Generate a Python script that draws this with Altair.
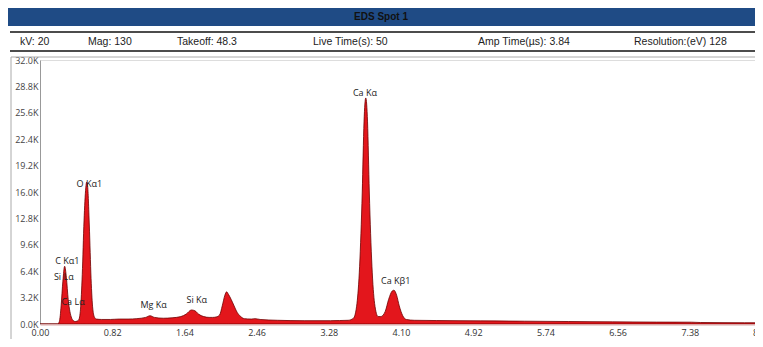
import altair as alt
import pandas as pd

# ---- spectrum (energy keV, counts) ----
energy = [0.00, 0.10, 0.20, 0.22, 0.24, 0.26, 0.28, 0.30, 0.32, 0.34, 0.36, 0.38, 0.40,
          0.42, 0.44, 0.46, 0.48, 0.50, 0.52, 0.53, 0.54, 0.56, 0.58, 0.60, 0.62, 0.64,
          0.70, 0.80, 0.90, 1.00, 1.10, 1.20, 1.25, 1.30, 1.40, 1.50, 1.60, 1.66, 1.72,
          1.76, 1.80, 1.86, 1.92, 1.96, 2.00, 2.04, 2.07, 2.10, 2.12, 2.14, 2.17, 2.20,
          2.24, 2.28, 2.32, 2.40, 2.44, 2.50, 2.70, 3.00, 3.30, 3.40, 3.50, 3.56, 3.60,
          3.63, 3.66, 3.68, 3.70, 3.72, 3.74, 3.77, 3.80, 3.84, 3.87, 3.92, 3.96, 4.00,
          4.02, 4.05, 4.08, 4.12, 4.16, 4.25, 4.50, 5.00, 5.50, 6.00, 6.50, 7.00, 7.40,
          7.50, 8.00, 8.20]
counts = [0, 0, 0, 300, 2200, 5200, 7000, 5600, 3000, 1500, 700, 400, 300,
          350, 500, 1800, 6000, 12500, 16500, 17200, 16800, 12000, 5500, 1800, 800, 600,
          550, 550, 600, 600, 650, 800, 1000, 800, 700, 750, 900, 1200, 1700,
          1600, 1200, 900, 800, 800, 850, 1100, 2200, 3500, 3900, 3600, 3000, 2300,
          1400, 900, 650, 600, 650, 550, 450, 400, 400, 420, 450, 700, 2500,
          7000, 16000, 24500, 27400, 24500, 16000, 7000, 2500, 900, 900, 1500, 3000, 4000,
          4100, 3500, 2200, 1000, 550, 450, 420, 380, 340, 300, 260, 230, 220,
          180, 150, 150]

# ---- peak labels ----
peak_labels = ["C  K\u03b11", "Si L\u03b1", "Ca L\u03b1", "O  K\u03b11", "Mg K\u03b1",
               "Si K\u03b1", "Ca K\u03b1", "Ca K\u03b21"]
peak_keV = [0.31, 0.27, 0.375, 0.56, 1.29, 1.78, 3.69, 4.04]
peak_cnt = [7580, 5650, 2650, 16960, 2290, 2890, 28030, 5170]

# ---- header ----
title_text = "EDS Spot 1"
info_texts = ["kV: 20", "Mag: 130", "Takeoff: 48.3", "Live Time(s): 50",
              "Amp Time(\u00b5s): 3.84", "Resolution:(eV) 128"]

x_ticks = [0.00, 0.82, 1.64, 2.46, 3.28, 4.10, 4.92, 5.74, 6.56, 7.38]
y_ticks = [0, 3200, 6400, 9600, 12800, 16000, 19200, 22400, 25600, 28800, 32000]

spec = pd.DataFrame({"keV": energy, "cnt": counts})
labels = pd.DataFrame({"label": peak_labels, "keV": peak_keV, "cnt": peak_cnt})
one = pd.DataFrame({"a": [0]})

FONT = "Liberation Sans"
W, H = 715, 264

xscale = alt.Scale(domain=[0, 8.2 * 715 / 722], nice=False, zero=False)
yscale = alt.Scale(domain=[0, 32000], nice=False)

xaxis = alt.Axis(values=x_ticks, format=".2f", grid=False, tickSize=0,
                 labelPadding=4, labelFontSize=9, labelFont="Open Sans",
                 labelColor="#333", domainColor="#d8a8a8", domainWidth=2,
                 labelOverlap=False, labelFlush=False)
yaxis = alt.Axis(values=y_ticks, grid=False, tickSize=0, labelPadding=2,
                 labelExpr="format(datum.value/1000, '.1f') + 'K'",
                 labelFontSize=9, labelFont="Open Sans", labelColor="#444",
                 domainColor="#999", labelOverlap=False, labelFlush=False)

area = alt.Chart(spec).mark_area(
    fill="#e3161c", stroke="#6e0000", strokeWidth=0.8, interpolate="monotone", clip=True
).encode(
    x=alt.X("keV:Q", scale=xscale, title=None, axis=xaxis),
    y=alt.Y("cnt:Q", scale=yscale, title=None, axis=yaxis),
)

plabels = alt.Chart(labels).mark_text(
    font="Open Sans", fontSize=9, color="#222", baseline="middle", align="center"
).encode(x=alt.X("keV:Q", scale=xscale, title=None, axis=xaxis),
         y=alt.Y("cnt:Q", scale=yscale, title=None, axis=yaxis), text="label:N")

layers = [area, plabels]

# truncated last tick label at the right edge
layers.append(alt.Chart(one).mark_text(
    font="Open Sans", fontSize=9, color="#333", baseline="top"
).encode(x=alt.value(722), y=alt.value(H + 5), text=alt.value("8.20")))

# header bar
layers.append(alt.Chart(one).mark_rect(color="#1f4b85").encode(
    x=alt.value(-32), x2=alt.value(W + 5), y=alt.value(-52), y2=alt.value(-34)))
layers.append(alt.Chart(one).mark_text(
    font=FONT, fontSize=10, fontWeight="bold", color="#111", baseline="middle"
).encode(x=alt.value(341), y=alt.value(-43), text=alt.value(title_text)))
# separator lines
for yy in (-28, -9):
    layers.append(alt.Chart(one).mark_rule(color="#111", strokeWidth=1.6).encode(
        x=alt.value(-30), x2=alt.value(W + 5), y=alt.value(yy)))
# info row
info_x = [-20, 48, 137, 273, 438, 594]
for t, xx in zip(info_texts, info_x):
    layers.append(alt.Chart(one).mark_text(
        font=FONT, fontSize=10.5, color="#222", align="left", baseline="middle"
    ).encode(x=alt.value(xx), y=alt.value(-18), text=alt.value(t)))
# panel border
layers.append(alt.Chart(one).mark_rule(color="#aaa", strokeWidth=1).encode(
    x=alt.value(-29), y=alt.value(-3), y2=alt.value(H + 20)))
layers.append(alt.Chart(one).mark_rule(color="#aaa", strokeWidth=1).encode(
    x=alt.value(-29), x2=alt.value(W + 5), y=alt.value(-3)))

chart = alt.layer(*layers).properties(
    width=W, height=H,
    padding={"left": 32, "top": 52, "right": 0, "bottom": 15},
    autosize=alt.AutoSizeParams(type="none"),
).configure_view(stroke="#999", strokeWidth=1).configure(background="white")

chart.save("out.html", embed_options={"renderer": "svg", "actions": False})
